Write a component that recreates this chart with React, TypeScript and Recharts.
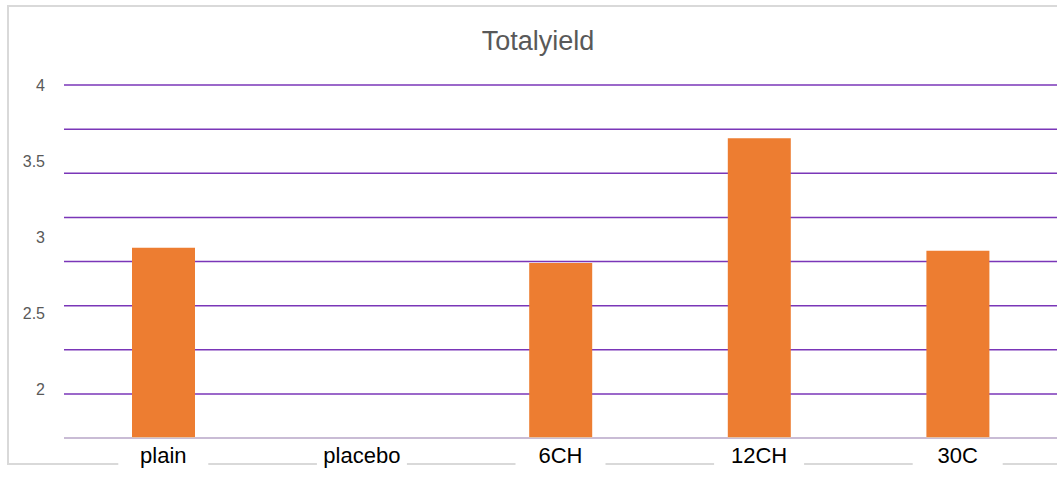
import { BarChart, Bar, XAxis, YAxis, CartesianGrid } from "recharts";

const categories = ["plain", "placebo", "6CH", "12CH", "30C"];
const totalYield: (number | null)[] = [2.93, null, 2.83, 3.65, 2.91];
const valueTicks = [2, 2.5, 3, 3.5, 4];
const gridTicks = [0.5, 1, 1.5, 2, 2.5, 3, 3.5, 4];

const data = categories.map((name, i) => ({ name, total: totalYield[i] }));

const FONT = "'Liberation Sans', Arial, sans-serif";
const BAR = "#ED7D31";
const GRID = "#7A36B8";
const AXIS = "#D9D9D9";

function CategoryTick(props: any) {
  const { x, y, payload } = props;
  return (
    <g>
      <rect x={x - 45} y={y + 10} width={90} height={26} fill="#fff" />
      <text
        x={x}
        y={y + 17}
        textAnchor="middle"
        fontFamily={FONT}
        fontSize={22}
        fill="#000"
      >
        {payload.value}
      </text>
    </g>
  );
}

function ValueTick(props: any) {
  const { y, payload } = props;
  return (
    <text
      x={45}
      y={y}
      dy={6}
      textAnchor="end"
      fontFamily={FONT}
      fontSize={16}
      fill="#595959"
    >
      {payload.value}
    </text>
  );
}

const NoTick = () => <g />;

export default function App() {
  return (
    <div
      style={{
        position: "fixed",
        left: 0,
        top: 0,
        width: 1057,
        height: 478,
        overflow: "hidden",
        background: "#fff",
      }}
    >
      <div
        style={{
          position: "absolute",
          left: 7,
          top: 5,
          width: 1100,
          height: 456,
          border: `2px solid ${AXIS}`,
        }}
      />
      <div
        style={{
          position: "absolute",
          left: 0,
          top: 26,
          width: 1076,
          textAlign: "center",
          fontFamily: FONT,
          fontSize: 27,
          color: "#595959",
        }}
      >
        Totalyield
      </div>
      <div style={{ position: "absolute", left: 0, top: 0 }}>
        <BarChart
          width={1057}
          height={478}
          data={data}
          margin={{ top: 85, right: 0, bottom: 0, left: 0 }}
        >
          <CartesianGrid
            yAxisId="grid"
            vertical={false}
            stroke={GRID}
            strokeWidth={1.5}
          />
          {/* grid scale: lines every 0.5 from the baseline */}
          <YAxis
            yAxisId="grid"
            width={0}
            domain={[0, 4]}
            allowDataOverflow
            ticks={gridTicks}
            axisLine={false}
            tickLine={false}
            tick={NoTick}
          />
          <YAxis
            yAxisId="val"
            width={64}
            domain={[1.68, 4]}
            allowDataOverflow
            ticks={valueTicks}
            axisLine={false}
            tickLine={false}
            tick={<ValueTick />}
          />
          <XAxis
            dataKey="name"
            height={40}
            axisLine={{ stroke: AXIS, strokeWidth: 1.5 }}
            tickLine={false}
            interval={0}
            tick={<CategoryTick />}
          />
          <Bar
            yAxisId="val"
            dataKey="total"
            fill={BAR}
            barSize={63}
            isAnimationActive={false}
          />
        </BarChart>
      </div>
    </div>
  );
}
